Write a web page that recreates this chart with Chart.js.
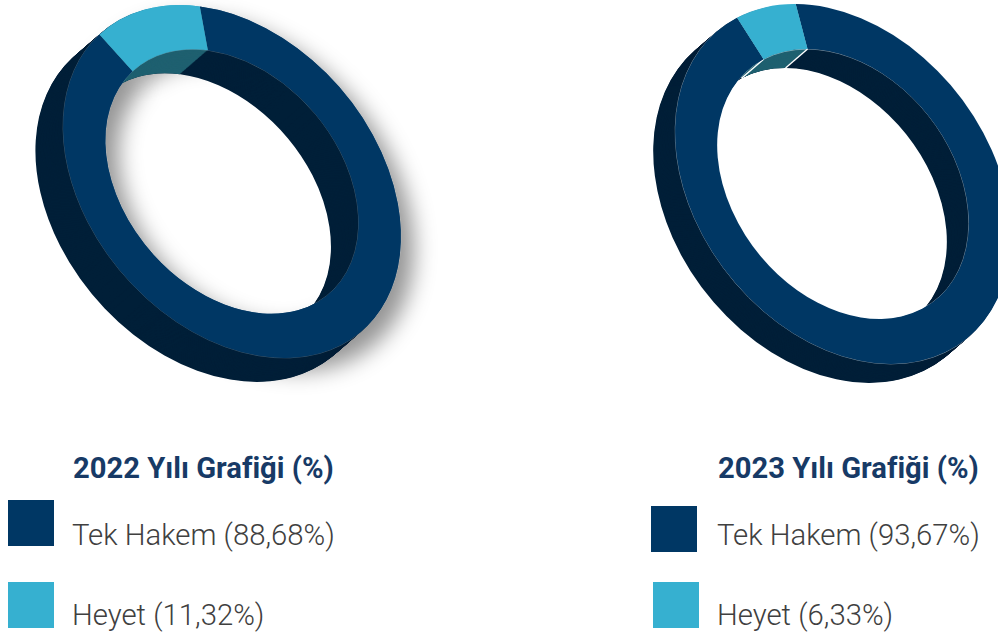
<!DOCTYPE html>
<html lang="tr">
<head>
<meta charset="utf-8">
<title>Grafik</title>
<script src="https://cdn.jsdelivr.net/npm/chart.js@4/dist/chart.umd.min.js"></script>
<style>
html,body{margin:0;padding:0;background:#fff;width:998px;height:639px;overflow:hidden}
canvas{position:absolute;top:0}
.t{position:absolute;font-family:Roboto,sans-serif;white-space:nowrap;line-height:33px}
.h{font-weight:700;color:#173a66;font-size:29.2px}
.l{font-weight:300;color:#404040;font-size:29.3px}
.s{position:absolute;width:46px;height:46px}
</style>
</head>
<body>
<canvas id="c1" width="500" height="440" style="left:0;width:500px;height:440px"></canvas>
<canvas id="c2" width="498" height="440" style="left:500px;width:498px;height:440px"></canvas>
<div id="txt"></div>
<script>
const categories = ['Tek Hakem', 'Heyet'];
const values2022 = [88.68, 11.32];
const values2023 = [93.67, 6.33];
const titles = ['2022 Yılı Grafiği (%)', '2023 Yılı Grafiği (%)'];
const labels2022 = ['Tek Hakem (88,68%)', 'Heyet (11,32%)'];
const labels2023 = ['Tek Hakem (93,67%)', 'Heyet (6,33%)'];
const faceColors = ['#003764', '#36b0d0'];
const wallColors = ['#001f38', '#1f6070'];

// cx,cy: canvas-space ring centre; a,b,theta: ellipse of the tilted ring; dx,dy: extrusion vector
const tilted = {
  id: 'tilted',
  beforeDatasetsDraw(chart, args, o) {
    const ctx = chart.ctx;
    const arcs = chart.getDatasetMeta(0).data;
    const x0 = arcs[0].x, y0 = arcs[0].y, R = arcs[0].outerRadius, r = arcs[0].innerRadius;
    const ct = Math.cos(o.theta), st = Math.sin(o.theta);
    const sa = o.a / R, sb = o.b / R;
    const m11 = ct * ct * sa + st * st * sb, m12 = ct * st * (sa - sb), m22 = st * st * sa + ct * ct * sb;
    const ex = o.cx - (m11 * x0 + m12 * y0), ey = o.cy - (m12 * x0 + m22 * y0);
    const paint = (arc, fill) => {
      const saved = arc.options;
      arc.options = Object.assign({}, saved, fill);
      arc.draw(ctx);
      arc.options = saved;
    };
    ctx.save();
    ctx.setTransform(m11, m12, m12, m22, ex, ey);
    if (o.shadow) {
      ctx.save();
      ctx.shadowColor = o.shadow;
      ctx.shadowBlur = o.blur;
      ctx.shadowOffsetX = o.sx;
      ctx.shadowOffsetY = o.sy;
      arcs.forEach((arc, i) => paint(arc, {backgroundColor: faceColors[i]}));
      ctx.restore();
    }
    const n = Math.ceil(Math.hypot(o.dx, o.dy));
    const layer = (arc, color) => {
      for (let k = n; k >= 1; k--) {
        ctx.save();
        ctx.setTransform(m11, m12, m12, m22, ex + o.dx * k / n, ey + o.dy * k / n);
        paint(arc, {backgroundColor: color});
        ctx.restore();
      }
    };
    layer(arcs[1], wallColors[0]);
    layer(arcs[0], wallColors[0]);
    // the tinted wall shows only through the front hole
    ctx.save();
    ctx.beginPath();
    ctx.arc(x0, y0, r, 0, Math.PI * 2);
    ctx.clip();
    layer(arcs[1], wallColors[1]);
    ctx.restore();
    // hairline rim of the front face
    arcs.forEach(arc => paint(arc, {backgroundColor: 'rgba(0,0,0,0)', borderWidth: o.rim, borderColor: o.rimColor, borderAlign: 'center'}));
    // white edges where the tinted wall meets its neighbours
    if (o.seam) {
      [arcs[1].startAngle, arcs[1].endAngle].forEach(ang => {
        const ux = x0 + r * Math.cos(ang), uy = y0 + r * Math.sin(ang);
        const px = m11 * ux + m12 * uy + ex, py = m12 * ux + m22 * uy + ey;
        ctx.save();
        ctx.setTransform(1, 0, 0, 1, 0, 0);
        ctx.beginPath();
        ctx.moveTo(px, py);
        ctx.lineTo(px + o.dx, py + o.dy);
        ctx.strokeStyle = o.seam;
        ctx.lineWidth = 1.4;
        ctx.stroke();
        ctx.restore();
      });
    }
  },
  afterDatasetsDraw(chart) {
    chart.ctx.restore();
  }
};

function ring(id, values, rotation, tilt) {
  return new Chart(document.getElementById(id), {
    type: 'doughnut',
    data: {labels: categories, datasets: [{data: values, backgroundColor: faceColors, borderWidth: 0, clip: false}]},
    options: {
      responsive: false,
      animation: false,
      cutout: '75%',
      rotation: rotation,
      events: [],
      plugins: {legend: {display: false}, tooltip: {enabled: false}, tilted: tilt}
    },
    plugins: [tilted]
  });
}

ring('c1', values2022, -1.7, {cx: 232, cy: 181.5, a: 198, b: 143, theta: 49 * Math.PI / 180, dx: -27.7, dy: 24,
  rim: 0.8, rimColor: 'rgba(220,235,245,0.4)',
  shadow: 'rgba(0,0,0,0.42)', blur: 22, sx: 13, sy: 13});
ring('c2', values2023, -7.7, {cx: 343, cy: 184, a: 198, b: 146, theta: 51.8 * Math.PI / 180, dx: -22, dy: 19,
  rim: 1, rimColor: 'rgba(235,245,250,0.6)', seam: '#ffffff'});

const txt = document.getElementById('txt');
function text(s, cls, x, baseline) {
  const e = document.createElement('div');
  e.className = 't ' + cls;
  e.textContent = s;
  e.style.left = x + 'px';
  e.style.top = (baseline - 26.5) + 'px';
  txt.appendChild(e);
}
function swatch(color, x, y) {
  const e = document.createElement('div');
  e.className = 's';
  e.style.background = color;
  e.style.left = x + 'px';
  e.style.top = y + 'px';
  txt.appendChild(e);
}
text(titles[0], 'h', 73, 478);
text(labels2022[0], 'l', 72, 545);
text(labels2022[1], 'l', 72, 625);
swatch(faceColors[0], 8, 500);
swatch(faceColors[1], 8, 582);
text(titles[1], 'h', 718, 478);
text(labels2023[0], 'l', 717, 545);
text(labels2023[1], 'l', 717, 625);
swatch(faceColors[0], 651, 506);
swatch(faceColors[1], 653, 582);
</script>
</body>
</html>
